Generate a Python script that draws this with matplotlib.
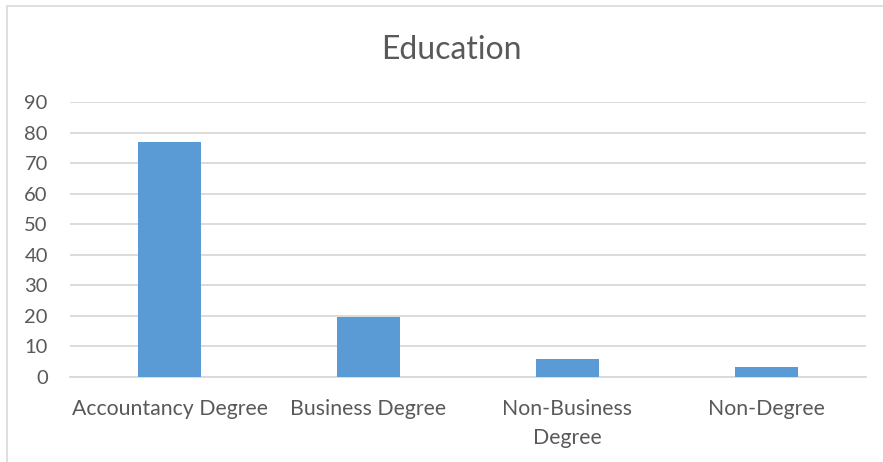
import matplotlib.pyplot as plt
from matplotlib.patches import Rectangle
import numpy as np

categories = ['Accountancy Degree', 'Business Degree', 'Non-Business\nDegree', 'Non-Degree']
counts = [77, 19.7, 6, 3.4]
yticks = [0, 10, 20, 30, 40, 50, 60, 70, 80, 90]

plt.rcParams['font.family'] = ['Lato', 'DejaVu Sans']
text_color = '#595959'
grid_color = '#d9d9d9'
bar_color = '#5b9bd5'

W, H = 883, 462
fig = plt.figure(figsize=(W / 100, H / 100), dpi=100)

# outer chart frame (runs off the right and bottom edges)
fig.patches.append(Rectangle((7 / W, -0.05), 1.0, 1 - 6 / H + 0.05,
                             transform=fig.transFigure, fill=False,
                             edgecolor=grid_color, linewidth=1.2))

ax = fig.add_axes([70 / W, (H - 377) / H, (866 - 70) / W, (377 - 102) / H])

x = np.arange(len(categories))
ax.bar(x, counts, width=0.32, color=bar_color, zorder=3)

ax.set_xlim(-0.5, len(categories) - 0.5)
ax.set_ylim(0, 90)
ax.set_yticks(yticks)
ax.set_xticks(x)
ax.set_xticklabels(categories, linespacing=1.55, fontsize=15.3)

for s in ['top', 'right', 'left']:
    ax.spines[s].set_visible(False)
ax.spines['bottom'].set_color(grid_color)
ax.spines['bottom'].set_linewidth(1.3)
ax.yaxis.grid(True, color=grid_color, linewidth=1.3, zorder=0)
ax.tick_params(axis='both', length=0, labelcolor=text_color)
ax.tick_params(axis='y', pad=16, labelsize=14.5)
ax.tick_params(axis='x', pad=16)

fig.text(451 / W, 1 - 50 / H, 'Education', ha='center', va='center',
         fontsize=23, color=text_color)

fig.savefig('out.png', dpi=100)
